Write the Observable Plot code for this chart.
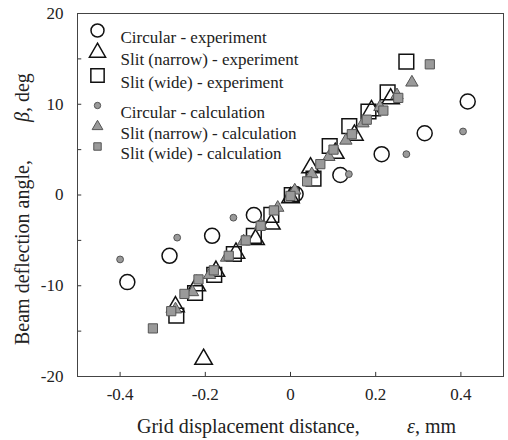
<!DOCTYPE html>
<html>
<head>
<meta charset="utf-8">
<script src="https://cdn.jsdelivr.net/npm/d3@7"></script>
<script src="https://cdn.jsdelivr.net/npm/@observablehq/plot@0.6"></script>
<style>
  html, body { margin: 0; padding: 0; background: #fff; }
  #chart { width: 508px; height: 440px; }
</style>
</head>
<body>
<div id="chart"></div>
<script>
// ---- data ----
const circExpX = [-0.383, -0.284, -0.184, -0.086, 0.012, 0.117, 0.214, 0.315, 0.416];
const circExpY = [-9.6, -6.7, -4.5, -2.2, 0.1, 2.2, 4.5, 6.8, 10.3];

const narrowExpX = [-0.204, -0.27, -0.22, -0.175, -0.128, -0.082, -0.045, 0.0, 0.047, 0.105, 0.15, 0.19, 0.235];
const narrowExpY = [-18.1, -12.3, -10.0, -8.4, -6.4, -4.9, -3.2, -0.3, 3.0, 4.6, 6.6, 9.3, 10.6];

const wideExpX = [-0.268, -0.224, -0.179, -0.133, -0.086, -0.045, 0.003, 0.054, 0.092, 0.138, 0.183, 0.228, 0.272];
const wideExpY = [-13.3, -10.8, -8.8, -6.5, -4.5, -2.2, 0.0, 1.8, 5.4, 7.6, 9.2, 11.3, 14.7];

const circCalcX = [-0.40, -0.266, -0.134, 0.0, 0.137, 0.272, 0.405];
const circCalcY = [-7.1, -4.7, -2.5, 0.0, 2.3, 4.5, 7.0];

const narrowCalcX = [-0.27, -0.23, -0.19, -0.15, -0.11, -0.07, -0.03, 0.01, 0.05, 0.09, 0.13, 0.17, 0.21, 0.25, 0.285];
const narrowCalcY = [-12.6, -10.7, -8.8, -6.9, -5.1, -3.3, -1.4, 0.5, 2.3, 4.2, 6.0, 7.9, 9.7, 11.0, 12.4];

const wideCalcX = [-0.323, -0.28, -0.249, -0.216, -0.18, -0.145, -0.105, -0.07, -0.039, 0.0, 0.039, 0.07, 0.101, 0.144, 0.179, 0.218, 0.253, 0.327];
const wideCalcY = [-14.7, -12.8, -10.9, -9.3, -8.3, -6.7, -5.0, -3.4, -1.7, -0.1, 1.5, 3.4, 5.0, 6.7, 8.3, 9.3, 10.7, 14.4];

const xTicks = [-0.4, -0.2, 0, 0.2, 0.4];
const yTicks = [-20, -10, 0, 10, 20];
const yTickMarks = [-15, -10, -5, 0, 5, 10, 15];
const xDomain = [-0.5, 0.5];
const yDomain = [-20, 20];

const legendLabels = [
  "Circular - experiment",
  "Slit (narrow) - experiment",
  "Slit (wide) - experiment",
  "Circular - calculation",
  "Slit (narrow) - calculation",
  "Slit (wide) - calculation"
];

// ---- build tables ----
const zip = (xs, ys) => xs.map((x, i) => ({x, y: ys[i]}));
const circExp = zip(circExpX, circExpY);
const narrowExp = zip(narrowExpX, narrowExpY);
const wideExp = zip(wideExpX, wideExpY);
const circCalc = zip(circCalcX, circCalcY);
const narrowCalc = zip(narrowCalcX, narrowCalcY);
const wideCalc = zip(wideCalcX, wideCalcY);

// ---- styles ----
const FONT = "Liberation Serif, DejaVu Serif, serif";
const styles = [
  {symbol: "circle",   r: 7.5, fill: "none", stroke: "#111", strokeWidth: 1.5},
  {symbol: "triangle", r: 6.5, fill: "none", stroke: "#111", strokeWidth: 1.5},
  {symbol: "square",   r: 8.3, fill: "none", stroke: "#111", strokeWidth: 1.5},
  {symbol: "circle",   r: 3.4, fill: "#9a9a9a", stroke: "#555", strokeWidth: 1},
  {symbol: "triangle", r: 4.6, fill: "#9a9a9a", stroke: "#555", strokeWidth: 1},
  {symbol: "square",   r: 5.2, fill: "#9a9a9a", stroke: "#555", strokeWidth: 1}
];
const legendStyles = [
  {...styles[0], r: 6.5},
  {...styles[1], r: 6},
  {...styles[2], r: 7.5},
  {...styles[3], r: 3.2},
  {...styles[4], r: 4},
  {...styles[5], r: 4.2}
];
const legendRowOffsets = [17, 39, 62, 92, 113, 133];

const series = [circExp, narrowExp, wideExp, circCalc, narrowCalc, wideCalc];

const marks = [];
// ticks (inward)
marks.push(Plot.ruleX(xTicks, {x: d => d, y1: yDomain[0], y2: yDomain[0] + 0.45, stroke: "#333"}));
marks.push(Plot.ruleY(yTickMarks, {y: d => d, x1: xDomain[0], x2: xDomain[0] + 0.01, stroke: "#333"}));
marks.push(Plot.axisX(xTicks, {tickSize: 0, tickPadding: 11, fontSize: 17, fontFamily: FONT, tickFormat: d => d === 0 ? "0" : d.toFixed(1), fill: "#222", label: null}));
marks.push(Plot.axisY(yTicks, {tickSize: 0, tickPadding: 14, fontSize: 17, fontFamily: FONT, tickFormat: d => String(d), fill: "#222", label: null}));
marks.push(Plot.frame({stroke: "#444", strokeWidth: 1}));

series.forEach((data, i) => {
  marks.push(Plot.dot(data, {x: "x", y: "y", ...styles[i]}));
});

// legend
legendLabels.forEach((label, i) => {
  marks.push(Plot.dot([label], {frameAnchor: "top-left", dx: 20, dy: legendRowOffsets[i], ...legendStyles[i]}));
  marks.push(Plot.text([label], {frameAnchor: "top-left", dx: 43, dy: legendRowOffsets[i], text: d => d, textAnchor: "start", fontSize: 17, fontFamily: FONT, fill: "#222"}));
});

const chart = Plot.plot({
  width: 508,
  height: 440,
  marginLeft: 77,
  marginRight: 5,
  marginTop: 13,
  marginBottom: 64,
  style: {fontFamily: FONT, background: "#fff", overflow: "visible"},
  x: {domain: xDomain},
  y: {domain: yDomain},
  marks
});

document.getElementById("chart").appendChild(chart);

const svg = d3.select(chart);

// axis titles with italic Greek symbols
const xt = svg.append("text")
  .attr("x", 137).attr("y", 433)
  .attr("text-anchor", "start")
  .attr("font-size", 20).attr("fill", "#222")
  .style("font-family", FONT);
xt.append("tspan").attr("text-anchor", "start").text("Grid displacement distance,");
xt.append("tspan").attr("text-anchor", "start").attr("x", 407).attr("font-style", "italic").text("ε");
xt.append("tspan").attr("text-anchor", "start").text(", mm");

const yt = svg.append("text")
  .attr("transform", "rotate(-90)")
  .attr("x", -345).attr("y", 29)
  .attr("text-anchor", "start")
  .attr("font-size", 20).attr("fill", "#222")
  .style("font-family", FONT);
yt.append("tspan").attr("text-anchor", "start").text("Beam deflection angle,");
yt.append("tspan").attr("text-anchor", "start").attr("x", -122).attr("font-style", "italic").text("β");
yt.append("tspan").attr("text-anchor", "start").text(", deg");
</script>
</body>
</html>
